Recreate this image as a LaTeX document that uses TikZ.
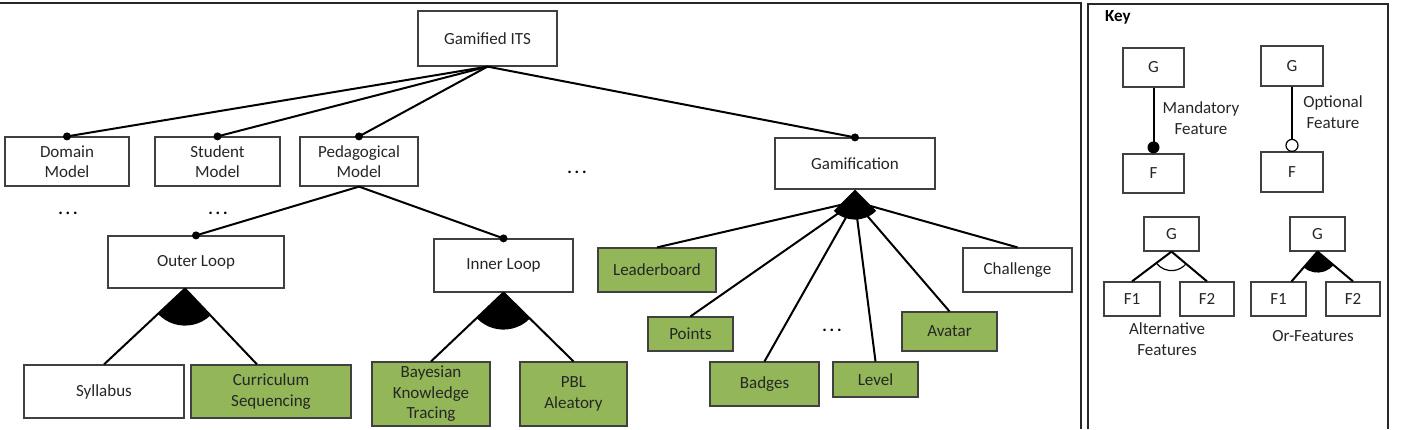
\documentclass[tikz,border=0pt]{standalone}
\usepackage{fontspec}
\setmainfont{Carlito}
\usetikzlibrary{calc}
\definecolor{featgreen}{RGB}{146,182,88}
\definecolor{boxline}{RGB}{64,64,64}
\definecolor{txt}{RGB}{38,38,38}
\definecolor{framec}{RGB}{40,40,40}
\tikzset{
  feat/.style={draw=boxline, line width=1.2pt, fill=white, inner sep=0pt, align=center, text=txt, font=\fontsize{17}{20.5}\selectfont},
  gfeat/.style={feat, fill=featgreen},
  conn/.style={line width=2pt, black},
  lbl/.style={inner sep=0pt, align=center, text=txt, font=\fontsize{17}{20.5}\selectfont},
  ellip/.style={inner sep=0pt, text=black, font=\fontsize{17}{20.5}\selectfont\bfseries},
  framepath/.style={line width=2.5pt, framec}
}
\begin{document}
\begin{tikzpicture}[x=1pt, y=-1pt]
\useasboundingbox (0,0) rectangle (1411,429);
% frames
\draw[framepath] (0,3) -- (1081,3) -- (1081,429);
\draw[framepath] (1088,429) -- (1088,4) -- (1388,4) -- (1388,429);

% main tree nodes
\node[feat, minimum width=139pt, minimum height=55pt] (its) at (487.5,38.5) {Gamified ITS};
\node[feat, minimum width=124pt, minimum height=49pt] (dom) at (67,161.5) {Domain\\Model};
\node[feat, minimum width=125pt, minimum height=49pt] (stu) at (217.5,161.5) {Student\\Model};
\node[feat, minimum width=118pt, minimum height=49pt] (ped) at (359,161.5) {Pedagogical\\Model};
\node[feat, minimum width=160pt, minimum height=51pt] (gam) at (855,163.5) {Gamification};
\node[feat, minimum width=176pt, minimum height=52pt] (outer) at (196,262) {Outer Loop};
\node[feat, minimum width=139pt, minimum height=53pt] (inner) at (503.5,265.5) {Inner Loop};
\node[feat, minimum width=160pt, minimum height=53pt] (syl) at (104,391.5) {Syllabus};
\node[gfeat, minimum width=160pt, minimum height=53pt] (cur) at (271,391.5) {Curriculum\\Sequencing};
\node[gfeat, minimum width=118pt, minimum height=64pt] (bkt) at (431,394) {Bayesian\\Knowledge\\Tracing};
\node[gfeat, minimum width=107pt, minimum height=64pt] (pbl) at (573.5,394) {PBL\\Aleatory};
\node[gfeat, minimum width=118pt, minimum height=44pt] (lead) at (657,270) {Leaderboard};
\node[feat, minimum width=109pt, minimum height=44pt] (chal) at (1017.5,270) {Challenge};
\node[gfeat, minimum width=85pt, minimum height=34pt] (pts) at (690.5,334) {Points};
\node[gfeat, minimum width=109pt, minimum height=44pt] (badg) at (764.5,384) {Badges};
\node[gfeat, minimum width=85pt, minimum height=35pt] (lvl) at (875.5,379.5) {Level};
\node[gfeat, minimum width=95pt, minimum height=39pt] (avat) at (949.5,331.5) {Avatar};

% ellipses
\node[ellip] (e1) at (68,213) {.\,.\,.};
\node[ellip] (e2) at (218,213) {.\,.\,.};
\node[ellip] (e3) at (577,172) {.\,.\,.};
\node[ellip] (e4) at (832,330) {.\,.\,.};

% mandatory connectors
\foreach \c in {dom,stu,ped,gam} {
  \draw[conn] (its.south) -- (\c.north);
  \fill (\c.north) circle[radius=4pt];
}
\foreach \c in {outer,inner} {
  \draw[conn] (ped.south) -- (\c.north);
  \fill (\c.north) circle[radius=4pt];
}

% outer loop or-group
\coordinate (oa) at ($(outer.south)+(-11,0)$);
\coordinate (ct) at ($(cur.north)+(-14,0)$);
\draw[conn] (oa) -- (syl.north);
\draw[conn] (oa) -- (ct);
\fill let \p1=(oa), \p2=(syl.north), \p3=(ct),
  \n1={atan2(\y2-\y1,\x2-\x1)}, \n2={atan2(\y3-\y1,\x3-\x1)} in
  (oa) -- ++(\n1:37pt) arc[start angle=\n1, end angle=\n2, radius=37pt] -- cycle;

% inner loop or-group
\draw[conn] (inner.south) -- (bkt.north);
\draw[conn] (inner.south) -- (pbl.north);
\fill let \p1=(inner.south), \p2=(bkt.north), \p3=(pbl.north),
  \n1={atan2(\y2-\y1,\x2-\x1)}, \n2={atan2(\y3-\y1,\x3-\x1)} in
  (inner.south) -- ++(\n1:37pt) arc[start angle=\n1, end angle=\n2, radius=37pt] -- cycle;

% gamification or-group
\coordinate (hub) at ($(gam.south)+(0,12)$);
\foreach \c in {lead,pts,badg,lvl,avat,chal} {
  \draw[conn] (hub) -- (\c.north);
}
\fill (gam.south) -- ++(-135:30pt) arc[start angle=-135, end angle=-45, radius=30pt] -- cycle;

% ---------------- Key ----------------
\node[inner sep=0pt, anchor=west, text=black, font=\fontsize{17}{20}\selectfont\bfseries] (keyt) at (1105,17) {Key};

\node[feat, minimum width=61pt, minimum height=39pt] (kg1) at (1153.5,67.5) {G};
\node[feat, minimum width=61pt, minimum height=39pt] (kf1) at (1153.5,173.5) {F};
\draw[conn] (kg1.south) -- (kf1.north);
\fill ($(kf1.north)+(0,-6)$) circle[radius=6pt];
\node[lbl] (kl1) at (1201,118) {Mandatory\\Feature};

\node[feat, minimum width=62pt, minimum height=40pt] (kg2) at (1292,66) {G};
\node[feat, minimum width=62pt, minimum height=40pt] (kf2) at (1292,172) {F};
\draw[conn] (kg2.south) -- ($(kf2.north)+(0,-12)$);
\draw[line width=1.2pt, fill=white] ($(kf2.north)+(0,-6)$) circle[radius=6pt];
\node[lbl] (kl2) at (1333,112) {Optional\\Feature};

\node[feat, minimum width=55pt, minimum height=34pt] (kg3) at (1171.5,234) {G};
\node[feat, minimum width=56pt, minimum height=34pt] (kf31) at (1132,299) {F1};
\node[feat, minimum width=54pt, minimum height=34pt] (kf32) at (1207,299) {F2};
\draw[conn] (kg3.south) -- (kf31.north);
\draw[conn] (kg3.south) -- (kf32.north);
\draw[line width=1.2pt] let \p1=(kg3.south), \p2=(kf31.north), \p3=(kf32.north),
  \n1={atan2(\y2-\y1,\x2-\x1)}, \n2={atan2(\y3-\y1,\x3-\x1)} in
  ($(kg3.south)+(\n1:19pt)$) arc[start angle=\n1, end angle=\n2, radius=19pt];
\node[lbl] (kl3) at (1167,339) {Alternative\\Features};

\node[feat, minimum width=55pt, minimum height=34pt] (kg4) at (1317.5,234) {G};
\node[feat, minimum width=55pt, minimum height=34pt] (kf41) at (1278.5,299) {F1};
\node[feat, minimum width=54pt, minimum height=34pt] (kf42) at (1353,299) {F2};
\coordinate (kt41) at ($(kf41.north)+(13,0)$);
\draw[conn] (kg4.south) -- (kt41);
\draw[conn] (kg4.south) -- (kf42.north);
\fill let \p1=(kg4.south), \p2=(kt41), \p3=(kf42.north),
  \n1={atan2(\y2-\y1,\x2-\x1)}, \n2={atan2(\y3-\y1,\x3-\x1)} in
  (kg4.south) -- ++(\n1:21pt) arc[start angle=\n1, end angle=\n2, radius=21pt] -- cycle;
\node[lbl] (kl4) at (1313,336) {Or-Features};
\end{tikzpicture}
\end{document}
